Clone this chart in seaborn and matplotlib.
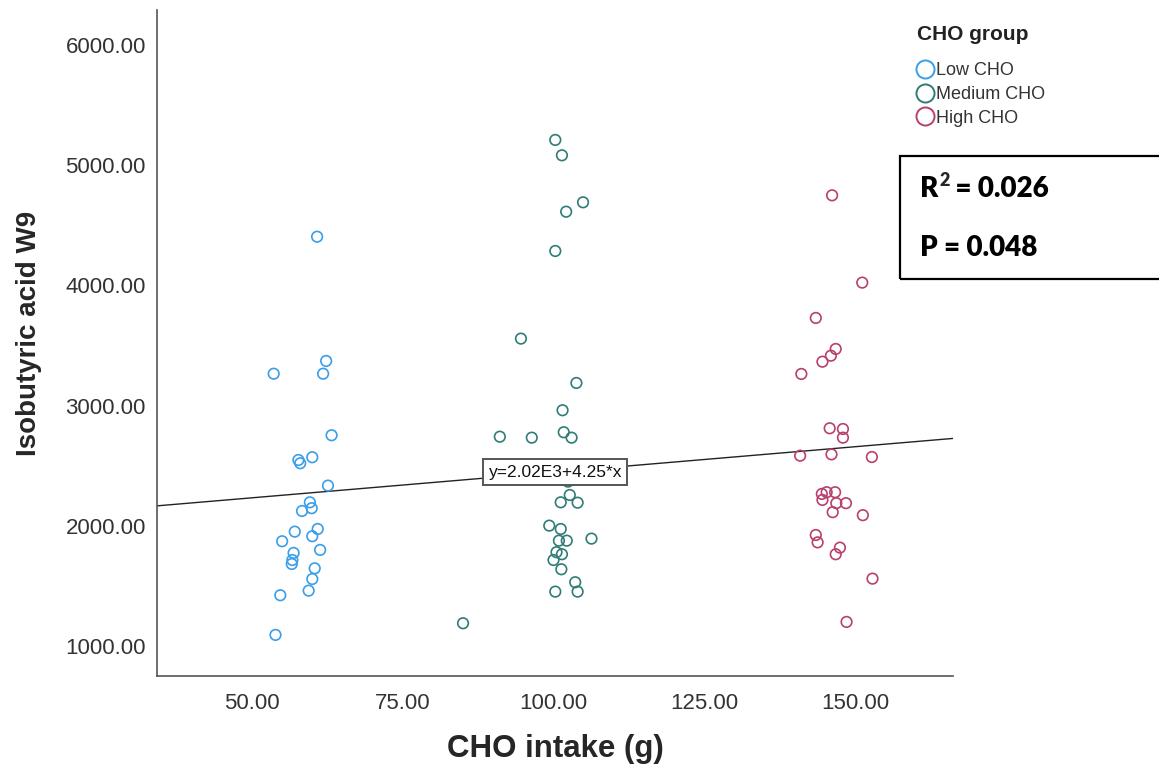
import numpy as np
import pandas as pd
import matplotlib
matplotlib.use("Agg")
import matplotlib.pyplot as plt
from matplotlib.lines import Line2D
from matplotlib.patches import Rectangle
import seaborn as sns

# values
low_x = [60.8, 62.3, 53.6, 61.8, 63.2, 57.7, 58.0, 60.0, 62.6, 59.6, 59.9, 58.3, 60.9,
         57.1, 60.0, 55.0, 61.3, 56.9, 56.7, 56.6, 60.4, 60.0, 59.4, 54.7, 53.9]
low_y = [4405, 3371, 3265, 3265, 2753, 2547, 2520, 2570, 2334, 2195, 2146, 2123, 1973,
         1951, 1913, 1871, 1799, 1774, 1715, 1682, 1646, 1557, 1460, 1422, 1092]

med_x = [100.3, 101.4, 104.9, 102.1, 100.3, 94.6, 103.8, 101.5, 91.1, 96.4, 101.7, 103.0,
         102.4, 102.7, 101.2, 104.0, 99.3, 101.2, 100.9, 102.2, 106.3, 100.5, 101.4, 100.0,
         101.3, 103.6, 100.3, 104.0, 85.0]
med_y = [5210, 5082, 4691, 4613, 4286, 3557, 3188, 2961, 2741, 2733, 2778, 2733,
         2367, 2256, 2195, 2192, 2001, 1973, 1876, 1876, 1893, 1780, 1763, 1715,
         1638, 1530, 1452, 1452, 1189]

high_x = [146.2, 151.2, 143.5, 146.8, 146.0, 144.6, 141.1, 145.8, 148.0, 148.0, 140.9, 146.1,
          152.8, 144.5, 145.3, 146.7, 144.6, 146.9, 148.5, 146.3, 151.3, 143.5, 143.8, 147.5,
          146.8, 152.9, 148.6]
high_y = [4749, 4023, 3729, 3471, 3415, 3365, 3263, 2811, 2805, 2733, 2583, 2594,
          2572, 2265, 2279, 2279, 2215, 2188, 2188, 2113, 2088, 1923, 1862, 1818,
          1763, 1560, 1200]

groups = ["Low CHO", "Medium CHO", "High CHO"]
colors = ["#3a9ee8", "#2f7c78", "#b8406e"]

intercept = 2020
slope = 4.25
fit_label = "y=2.02E3+4.25*x"
r2_value = " = 0.026"
p_text = "P = 0.048"

df = pd.DataFrame({
    "CHO intake (g)": low_x + med_x + high_x,
    "Isobutyric acid W9": low_y + med_y + high_y,
    "CHO group": [groups[0]] * len(low_x) + [groups[1]] * len(med_x) + [groups[2]] * len(high_x),
})

sns.set_style("white")
plt.rcParams["font.family"] = ["Liberation Sans", "DejaVu Sans"]

fig = plt.figure(figsize=(11.59, 7.78), dpi=100)
ax = fig.add_axes([157 / 1159, 1 - 676 / 778, (953 - 157) / 1159, (676 - 10) / 778])

palette = dict(zip(groups, colors))
sns.scatterplot(data=df, x="CHO intake (g)", y="Isobutyric acid W9", hue="CHO group",
                palette=palette, s=58, legend=False, ax=ax, zorder=3)
# open circles
for coll in ax.collections:
    fc = coll.get_facecolors()
    coll.set_edgecolors(fc)
    coll.set_facecolor("none")
    coll.set_linewidth(1.2)

# fit line
ax.axline((0, intercept), slope=slope, color="#222222", lw=1.0, zorder=2)
xa = 100.3
ax.text(xa, intercept + slope * xa, fit_label, ha="center", va="center", fontsize=12.5,
        color="#111111", zorder=5,
        bbox=dict(boxstyle="square,pad=0.3", fc="white", ec="#555555", lw=1.4))

ax.set_xlim(34.25, 166.25)
ax.set_ylim(750, 6291)
ax.set_xticks([50, 75, 100, 125, 150])
ax.set_yticks([1000, 2000, 3000, 4000, 5000, 6000])
ax.set_xticklabels([f"{v:.2f}" for v in ax.get_xticks()])
ax.set_yticklabels([f"{v:.2f}" for v in ax.get_yticks()])
ax.tick_params(axis="both", length=0, labelsize=16, labelcolor="#333333")
ax.tick_params(axis="x", pad=12)
ax.tick_params(axis="y", pad=8)

sns.despine(ax=ax)
for side in ["left", "bottom"]:
    ax.spines[side].set_color("#555555")
    ax.spines[side].set_linewidth(1.2)

ax.set_xlabel("CHO intake (g)", fontsize=22.5, fontweight="bold")
ax.set_ylabel("Isobutyric acid W9", fontsize=20, fontweight="bold")
ax.xaxis.set_label_coords(0.501, -0.087)
ax.yaxis.set_label_coords(-0.145, 0.514)

# legend (title drawn separately so the gap matches)
fig.text(917 / 1159, 1 - 34 / 778, "CHO group", fontsize=15, fontweight="bold",
         color="#222222", ha="left", va="center")
handles = [Line2D([], [], marker="o", ls="", markerfacecolor="none", markeredgecolor=c,
                  markersize=13, markeredgewidth=1.4) for c in colors]
leg = fig.legend(handles, groups, loc="upper left",
                 bbox_to_anchor=(908 / 1159, 1 - 53 / 778), frameon=False, fontsize=13,
                 handlelength=0.9, handletextpad=0.15, labelspacing=0.38, borderpad=0)
for t in leg.get_texts():
    t.set_color("#333333")

# stats box
fig.patches.append(Rectangle((900 / 1159, 1 - 279 / 778), 300 / 1159, 123 / 778,
                             transform=fig.transFigure, fill=False, ec="black", lw=1.6,
                             clip_on=False))
stat_font = dict(fontsize=20, fontweight="heavy", family=["Lato", "DejaVu Sans"],
                 color="black")
t_r = fig.text(920 / 1159, 1 - 189 / 778, "R", va="center", ha="left", **stat_font)
t_sup = ax.annotate("2", xy=(1, 0.5), xycoords=t_r, xytext=(0.5, 0),
                    textcoords="offset points", va="bottom", ha="left",
                    fontsize=13, fontweight="heavy", family=["Lato", "DejaVu Sans"],
                    annotation_clip=False)
ax.annotate(r2_value, xy=(1, 0), xycoords=(t_sup, t_r), va="bottom", ha="left",
            annotation_clip=False, **stat_font)
fig.text(920 / 1159, 1 - 248 / 778, p_text, va="center", ha="left", **stat_font)

fig.savefig("out.png", dpi=100)
